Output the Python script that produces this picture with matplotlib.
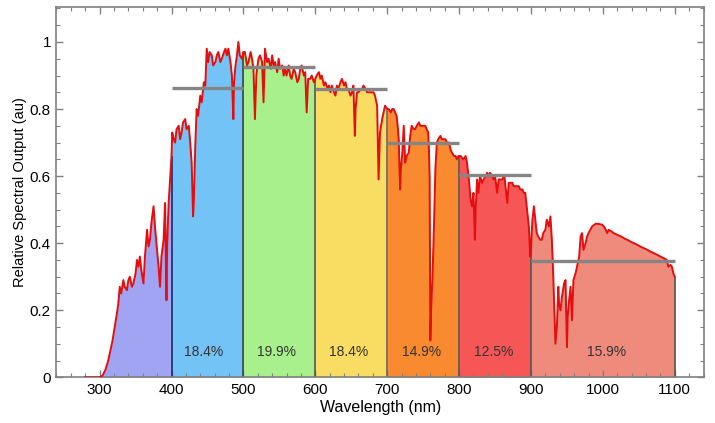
import numpy as np
import matplotlib.pyplot as plt
from matplotlib.ticker import MultipleLocator, FormatStrFormatter

plt.rcParams['font.family'] = ['Liberation Sans', 'DejaVu Sans']

# Spectrum (wavelength in nm, relative output)
wavelength = [
    280, 290, 300, 304, 308, 312, 315, 318, 321, 324, 326, 328, 330, 333, 335, 338,
    340, 342, 345, 347, 350, 352, 354, 356, 358, 361, 363, 366, 368, 370, 372, 375,
    377, 379, 382, 384, 386, 389, 391, 393, 394, 396, 398, 399, 400, 401, 403, 405,
    407, 410, 412, 414, 416, 419, 421, 424, 426, 428, 430, 431, 433, 435, 437, 440,
    442, 445, 447, 449, 451, 453, 456, 458, 461, 463, 465, 468, 470, 473, 475, 477,
    479, 482, 484, 486, 487, 489, 491, 493, 495, 498, 500, 502, 505, 507, 510, 512,
    514, 516, 518, 519, 521, 523, 526, 528, 530, 533, 535, 538, 540, 542, 544, 547,
    549, 551, 554, 556, 558, 560, 563, 565, 567, 570, 572, 575, 577, 579, 581, 584,
    586, 588, 590, 593, 595, 598, 600, 602, 605, 607, 609, 612, 614, 617, 619, 621,
    623, 626, 628, 630, 632, 635, 637, 640, 642, 644, 646, 649, 651, 653, 655, 656,
    658, 660, 663, 665, 667, 670, 672, 675, 678, 681, 683, 685, 686, 688, 689, 690,
    693, 695, 697, 700, 702, 705, 707, 709, 711, 713, 715, 716, 718, 719, 721, 723,
    725, 727, 730, 732, 734, 737, 739, 741, 744, 746, 748, 751, 753, 755, 757, 758,
    759, 760, 761, 763, 765, 767, 769, 771, 774, 776, 779, 781, 783, 786, 788, 790,
    793, 795, 797, 799, 800, 802, 806, 809, 811, 814, 816, 818, 820, 822, 823, 825,
    827, 829, 832, 834, 837, 839, 841, 843, 846, 848, 850, 853, 855, 858, 860, 862,
    863, 865, 867, 869, 872, 874, 876, 878, 880, 883, 885, 888, 890, 892, 894, 896,
    897, 899, 900, 901, 902, 904, 906, 908, 910, 913, 915, 917, 920, 922, 925, 927,
    929, 931, 933, 934, 936, 938, 939, 941, 943, 946, 948, 950, 951, 953, 955, 957,
    959, 962, 964, 967, 969, 971, 973, 976, 978, 980, 985, 990, 995, 999, 1002, 1004,
    1006, 1008, 1012, 1015, 1020, 1025, 1030, 1034, 1039, 1043, 1048, 1052, 1057, 1062,
    1066, 1071, 1075, 1080, 1085, 1089, 1091, 1094, 1096, 1098, 1100,
]
output = [
    0.0, 0.0, 0.0, 0.005, 0.022, 0.05, 0.08, 0.11, 0.15, 0.19, 0.22, 0.27, 0.25, 0.29, 0.27, 0.26,
    0.29, 0.30, 0.27, 0.28, 0.31, 0.35, 0.33, 0.36, 0.32, 0.28, 0.36, 0.44, 0.39, 0.41, 0.46, 0.51,
    0.45, 0.40, 0.33, 0.27, 0.36, 0.41, 0.52, 0.23, 0.40, 0.52, 0.59, 0.62, 0.66, 0.73, 0.71, 0.70,
    0.74, 0.75, 0.71, 0.73, 0.76, 0.77, 0.74, 0.75, 0.70, 0.64, 0.48, 0.52, 0.69, 0.80, 0.78, 0.84,
    0.82, 0.88, 0.87, 0.98, 0.94, 0.97, 0.96, 0.93, 0.94, 0.96, 0.97, 0.94, 0.95, 0.97, 0.98, 0.96,
    0.98, 0.94, 0.90, 0.77, 0.88, 0.93, 0.96, 1.00, 0.96, 0.95, 0.97, 0.97, 0.93, 0.94, 0.97, 0.95,
    0.92, 0.77, 0.90, 0.92, 0.95, 0.96, 0.94, 0.82, 0.98, 0.94, 0.95, 0.92, 0.96, 0.93, 0.94, 0.91,
    0.95, 0.92, 0.93, 0.90, 0.92, 0.90, 0.93, 0.90, 0.89, 0.92, 0.91, 0.88, 0.89, 0.92, 0.93, 0.90,
    0.91, 0.79, 0.89, 0.89, 0.90, 0.88, 0.89, 0.90, 0.91, 0.89, 0.90, 0.87, 0.88, 0.86, 0.87, 0.85,
    0.87, 0.85, 0.84, 0.87, 0.86, 0.88, 0.89, 0.87, 0.88, 0.86, 0.86, 0.84, 0.85, 0.87, 0.72, 0.80,
    0.85, 0.85, 0.86, 0.86, 0.87, 0.86, 0.85, 0.85, 0.85, 0.85, 0.84, 0.82, 0.81, 0.59, 0.66, 0.73,
    0.77, 0.79, 0.81, 0.80, 0.80, 0.79, 0.80, 0.80, 0.79, 0.78, 0.74, 0.71, 0.56, 0.62, 0.67, 0.75,
    0.64, 0.66, 0.67, 0.72, 0.75, 0.74, 0.74, 0.75, 0.76, 0.75, 0.75, 0.75, 0.75, 0.74, 0.73, 0.68,
    0.60, 0.11, 0.20, 0.30, 0.45, 0.62, 0.70, 0.71, 0.72, 0.71, 0.71, 0.71, 0.70, 0.70, 0.68, 0.67,
    0.66, 0.66, 0.65, 0.66, 0.66, 0.66, 0.65, 0.66, 0.64, 0.58, 0.53, 0.51, 0.55, 0.41, 0.50, 0.59,
    0.55, 0.60, 0.58, 0.59, 0.60, 0.61, 0.60, 0.61, 0.60, 0.59, 0.60, 0.55, 0.59, 0.59, 0.59, 0.60,
    0.60, 0.56, 0.52, 0.58, 0.58, 0.58, 0.57, 0.57, 0.57, 0.57, 0.56, 0.56, 0.55, 0.55, 0.51, 0.47,
    0.45, 0.36, 0.38, 0.43, 0.47, 0.51, 0.47, 0.43, 0.42, 0.41, 0.41, 0.43, 0.44, 0.47, 0.45, 0.48,
    0.41, 0.30, 0.16, 0.10, 0.15, 0.27, 0.22, 0.20, 0.24, 0.28, 0.29, 0.09, 0.18, 0.23, 0.27, 0.17,
    0.29, 0.31, 0.33, 0.36, 0.42, 0.43, 0.38, 0.40, 0.42, 0.43, 0.45, 0.458, 0.457, 0.455, 0.448, 0.440,
    0.430, 0.440, 0.435, 0.430, 0.425, 0.420, 0.414, 0.410, 0.404, 0.400, 0.395, 0.390, 0.385, 0.380,
    0.375, 0.370, 0.366, 0.360, 0.355, 0.350, 0.33, 0.335, 0.33, 0.31, 0.30,
]

band_edges = [300, 400, 500, 600, 700, 800, 900, 1100]
band_colors = ['#a0a4f2', '#74c3f6', '#a7f08c', '#f8dd62', '#f98a30', '#f75656', '#ee8b7d']
edge_colors = ['#1b2a6b', '#3f3f4f', '#555555', '#666666', '#555555', '#555555', '#555555']
band_means = [0.863, 0.925, 0.86, 0.70, 0.603, 0.346]
band_labels = ['18.4%', '19.9%', '18.4%', '14.9%', '12.5%', '15.9%']
label_x = [444, 546, 647, 748, 848, 1005]

wl = np.array(wavelength)
val = np.array(output)

fig = plt.figure(figsize=(7.15, 4.23), dpi=100)
ax = fig.add_axes([0.079, 0.108, 0.906, 0.876])

# coloured bands under the curve
for i in range(len(band_colors)):
    lo, hi = band_edges[i], band_edges[i + 1]
    m = (wl >= lo) & (wl <= hi)
    ax.fill_between(wl[m], 0, val[m], color=band_colors[i], lw=0, zorder=1)

# band separators
for i, e in enumerate(band_edges[1:]):
    top = val[wl == e][0]
    ax.vlines(e, 0, top, color=edge_colors[i], lw=1.2, zorder=2)

# spectrum
ax.plot(wl, val, color='#e50d0d', lw=1.4, zorder=3)

# band average lines + percentages
for i in range(len(band_means)):
    lo, hi = band_edges[i + 1], band_edges[i + 2]
    ax.hlines(band_means[i], lo, hi, color='#858585', lw=2.4, zorder=4)
    ax.text(label_x[i], 0.075, band_labels[i], ha='center', va='center',
            fontsize=10, color='#333333', zorder=5)

ax.set_xlim(240, 1141)
ax.set_ylim(0, 1.105)
ax.xaxis.set_major_locator(MultipleLocator(100))
ax.xaxis.set_minor_locator(MultipleLocator(20))
ax.yaxis.set_major_locator(MultipleLocator(0.2))
ax.yaxis.set_minor_locator(MultipleLocator(0.05))
ax.yaxis.set_major_formatter(FormatStrFormatter('%g'))
ax.tick_params(which='both', direction='in', top=True, right=True,
               color='#808080', labelsize=11, pad=4)
ax.tick_params(which='major', length=5, width=1)
ax.tick_params(which='minor', length=3, width=0.8)
for s in ax.spines.values():
    s.set_color('#808080')
    s.set_linewidth(1.2)

ax.set_xlabel('Wavelength (nm)', fontsize=11.5, labelpad=2)
ax.set_ylabel('Relative Spectral Output (au)', fontsize=10.5, labelpad=2)

plt.savefig('out.png', dpi=100)
